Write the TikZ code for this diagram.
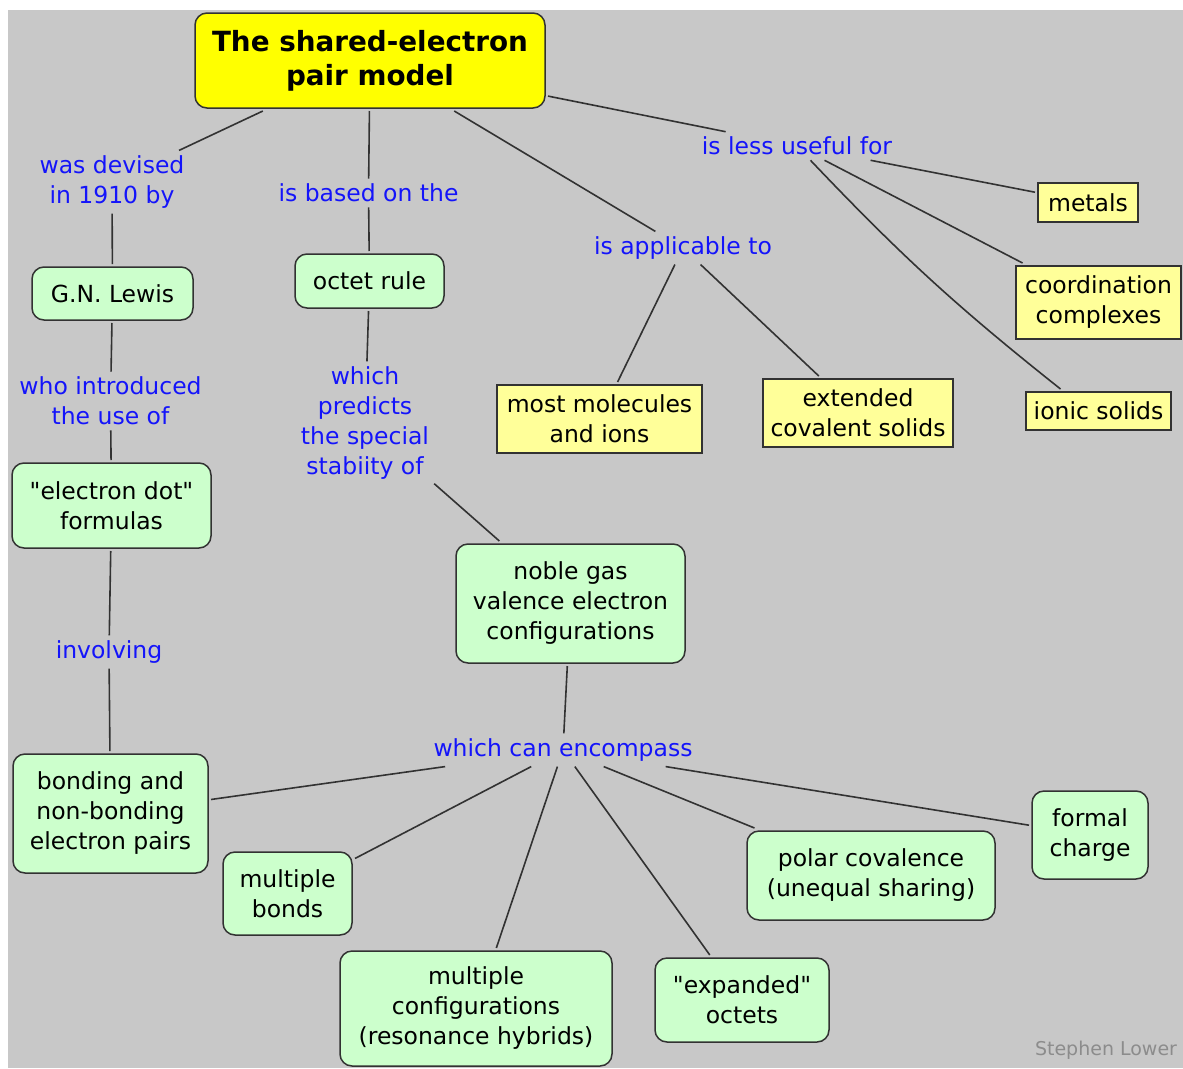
\documentclass[tikz,border=0pt]{standalone}
\usepackage{fontspec}
\setmainfont{DejaVu Sans}[Ligatures=TeXOff]
\usepackage{xcolor}
\usetikzlibrary{positioning}

\definecolor{mapgray}{RGB}{200,200,200}
\definecolor{mapgreen}{RGB}{204,255,204}
\definecolor{mapyellow}{RGB}{255,255,153}
\definecolor{titleyellow}{RGB}{255,255,0}
\definecolor{linkblue}{RGB}{20,20,250}
\definecolor{edgegray}{RGB}{50,50,50}
\definecolor{creditgray}{RGB}{140,140,140}
\newcommand{\mapfont}{\fontsize{23.5}{30}\selectfont}

\begin{document}
\begin{tikzpicture}[x=1pt,y=-1pt,
  concept/.style={draw=edgegray,line width=1.5pt,rounded corners=12pt,fill=mapgreen,
    align=center,font=\mapfont,inner sep=0pt,outer sep=3pt},
  item/.style={draw=edgegray,line width=1.5pt,fill=mapyellow,
    align=center,font=\mapfont,inner sep=0pt,outer sep=3pt},
  link/.style={text=linkblue,align=center,font=\mapfont,inner sep=5pt},
  wire/.style={draw=edgegray,line width=1.6pt}]
\useasboundingbox (0,0) rectangle (1183,1068);
\fill[mapgray] (8,10) rectangle (1183,1068);

\node[concept,fill=titleyellow,font=\bfseries\fontsize{27.8}{34}\selectfont,
  minimum width=350pt,minimum height=95pt] (title) at (370,60.5)
  {The shared-electron\\pair model};

% linking phrases
\node[link] (devised) at (112,182) {was devised\\in 1910 by};
\node[link] (based) at (368.5,193) {is based on the};
\node[link] (applic) at (683,248) {is applicable to};
\node[link] (lessuse) at (797,146) {is less useful for};
\node[link] (introduced) at (110.5,401) {who introduced\\the use of};
\node[link] (predicts) at (365,423) {which\\predicts\\the special\\stabiity of};
\node[link] (involving) at (109,652) {involving};
\node[link] (encompass) at (563,750) {which can encompass};

% concepts
\node[concept,minimum width=161pt,minimum height=53pt] (lewis) at (112.5,293.5) {G.N. Lewis};
\node[concept,minimum width=149pt,minimum height=54pt] (octet) at (369.5,281) {octet rule};
\node[concept,minimum width=199pt,minimum height=85pt] (dotform) at (111.5,505.5) {"electron dot"\\formulas};
\node[concept,minimum width=229pt,minimum height=119pt] (noble) at (570.5,603.5)
  {noble gas\\valence electron\\configurations};
\node[concept,minimum width=195pt,minimum height=119pt] (bonding) at (110.5,813.5)
  {bonding and\\non-bonding\\electron pairs};
\node[concept,minimum width=129pt,minimum height=83pt] (multbonds) at (287.5,893.5) {multiple\\bonds};
\node[concept,minimum width=272pt,minimum height=115pt] (multconf) at (476,1008.5)
  {multiple\\configurations\\(resonance hybrids)};
\node[concept,minimum width=174pt,minimum height=84pt] (expanded) at (742,1000) {"expanded"\\octets};
\node[concept,minimum width=248pt,minimum height=89pt] (polar) at (871,875.5)
  {polar covalence\\(unequal sharing)};
\node[concept,minimum width=116pt,minimum height=88pt] (formal) at (1090,835) {formal\\charge};

% examples
\node[item,minimum width=100pt,minimum height=39pt] (metals) at (1088,202.5) {metals};
\node[item,minimum width=165pt,minimum height=73pt] (coord) at (1098.5,302.5) {coordination\\complexes};
\node[item,minimum width=145pt,minimum height=38pt] (ionic) at (1098.5,411) {ionic solids};
\node[item,minimum width=205pt,minimum height=68pt] (mostmol) at (599.5,419) {most molecules\\and ions};
\node[item,minimum width=190pt,minimum height=68pt] (extcov) at (858,413) {extended\\covalent solids};

\node[text=creditgray,font=\fontsize{19}{22}\selectfont,inner sep=0pt] (credit) at (1106,1050) {Stephen Lower};

\foreach \a/\b in {title/devised,devised/lewis,title/based,based/octet,title/applic,title/lessuse,
  lessuse/metals,lessuse/coord,applic/mostmol,applic/extcov,
  lewis/introduced,introduced/dotform,dotform/involving,involving/bonding,
  octet/predicts,predicts/noble,noble/encompass,
  encompass/bonding,encompass/multbonds,encompass/multconf,encompass/expanded,
  encompass/polar,encompass/formal}
  \draw[wire] (\a) -- (\b);
\draw[wire] (lessuse) to[bend right=4] ([xshift=-38pt]ionic.north);
\end{tikzpicture}
\end{document}
